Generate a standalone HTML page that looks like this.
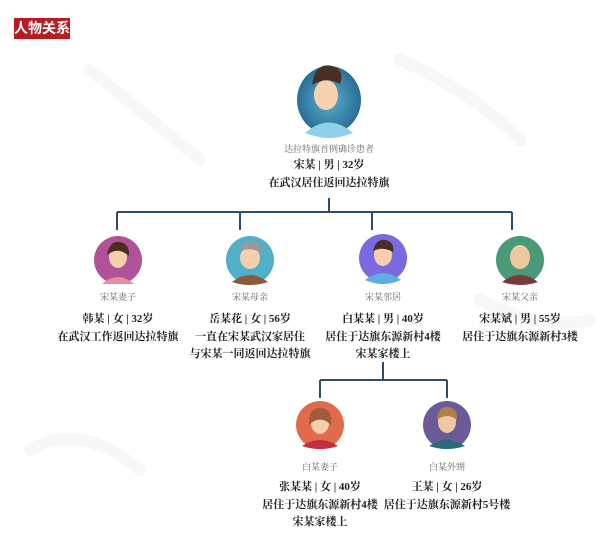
<!DOCTYPE html>
<html><head><meta charset="utf-8"><style>
body{margin:0;width:601px;height:534px;background:#fff;position:relative;overflow:hidden;font-family:"Liberation Serif","Noto Serif CJK SC",serif;color:#222}
.t{position:absolute;transform:translateX(-50%);white-space:nowrap;text-align:center}
.s{font-size:9px;color:#666}
.b{font-size:11px;font-weight:bold;line-height:17.5px}
.ttl{position:absolute;left:14px;top:18px;width:56px;height:21px;background:#b81c22;color:#fff;font:bold 14px "Liberation Sans","Noto Sans CJK SC",sans-serif;line-height:21px;text-align:center}
</style></head><body>
<svg width="601" height="534" style="position:absolute;left:0;top:0">
<g fill="none" stroke="#f6f7f8" stroke-width="12" stroke-linecap="round">
<path d="M90 70 Q140 110 200 160"/><path d="M400 60 Q470 90 520 140"/><path d="M30 450 Q80 420 140 470"/><path d="M480 300 Q540 330 590 320"/>
</g>
<g stroke="#2f4d66" stroke-width="2" fill="none">
<path d="M329 198V212M117 212H512M117 212V230M240 212V230M372 212V230M512 212V230"/>
<path d="M383 362V380M320 380H447M320 380V398M447 380V398"/>
</g>
<defs>
<radialGradient id="g1"><stop offset="0" stop-color="#5ab0d0"/><stop offset="1" stop-color="#2a6e96"/></radialGradient>
</defs>
<ellipse cx="329" cy="100" rx="32" ry="34" fill="url(#g1)"/>
<path d="M305 133 Q329 112 353 133 Q340 138 329 138 Q318 138 305 133Z" fill="#8fd0e8"/>
<ellipse cx="326" cy="95" rx="12" ry="15" fill="#f7d2b0"/>
<path d="M312 85 Q315 62 332 66 Q345 70 340 84 Q326 76 312 85Z" fill="#4a2e22"/>
<g>
<circle cx="118" cy="260" r="24" fill="#b0529a"/><ellipse cx="118" cy="257" rx="9" ry="11" fill="#f5cfae"/><path d="M102 284 Q118 270 134 284Z" fill="#ec8aa0"/><path d="M107 255 Q110 240 120 242 Q130 244 129 256 Q118 246 107 255Z" fill="#4a2e22"/>
<circle cx="250" cy="260" r="24" fill="#4fb0c8"/><ellipse cx="250" cy="258" rx="10" ry="11" fill="#f5cfae"/><path d="M232 282 Q250 268 268 282 Q250 288 232 282Z" fill="#8a5a3a"/><path d="M239 252 Q242 240 252 241 Q262 243 261 253 Q250 246 239 252Z" fill="#999"/>
<circle cx="383" cy="258" r="24" fill="#7a6ae0"/><ellipse cx="383" cy="255" rx="9" ry="11" fill="#f5cfae"/><path d="M365 280 Q383 266 401 280 Q383 288 365 280Z" fill="#5aaee0"/><path d="M373 251 Q376 238 386 240 Q395 243 393 252 Q383 246 373 251Z" fill="#4a2e22"/>
<circle cx="520" cy="260" r="24" fill="#4a9a7a"/><ellipse cx="520" cy="257" rx="10" ry="12" fill="#f0c8a0"/><path d="M502 282 Q520 268 538 282 Q520 288 502 282Z" fill="#7a3a3a"/>
</g>
<circle cx="320" cy="425" r="24" fill="#e06a4a"/><ellipse cx="320" cy="423" rx="9" ry="11" fill="#f5cfae"/><path d="M302 446 Q320 434 338 446 Q320 452 302 446Z" fill="#c03040"/><path d="M309 425 Q308 408 320 408 Q333 408 331 425 Q320 414 309 425Z" fill="#a05a3a"/>
<circle cx="447" cy="425" r="24" fill="#6a5a9a"/><ellipse cx="447" cy="422" rx="9" ry="11" fill="#f0c8a0"/><path d="M429 446 Q447 434 465 446 Q447 452 429 446Z" fill="#2a6a7a"/><path d="M437 420 Q438 406 448 407 Q458 408 457 420 Q447 412 437 420Z" fill="#b0804a"/>
</svg>
<div class="ttl">人物关系</div>
<div class="t s" style="left:329px;top:142px">达拉特旗首例确诊患者</div>
<div class="t b" style="left:329px;top:157px">宋某 | 男 | 32岁<br>在武汉居住返回达拉特旗</div>
<div class="t s" style="left:118px;top:290px">宋某妻子</div>
<div class="t b" style="left:118px;top:311px">韩某 | 女 | 32岁<br>在武汉工作返回达拉特旗</div>
<div class="t s" style="left:250px;top:290px">宋某母亲</div>
<div class="t b" style="left:250px;top:311px">岳某花 | 女 | 56岁<br>一直在宋某武汉家居住<br>与宋某一同返回达拉特旗</div>
<div class="t s" style="left:383px;top:290px">宋某邻居</div>
<div class="t b" style="left:383px;top:311px">白某某 | 男 | 40岁<br>居住于达旗东源新村4楼<br>宋某家楼上</div>
<div class="t s" style="left:520px;top:290px">宋某父亲</div>
<div class="t b" style="left:520px;top:311px">宋某斌 | 男 | 55岁<br>居住于达旗东源新村3楼</div>
<div class="t s" style="left:320px;top:460px">白某妻子</div>
<div class="t b" style="left:320px;top:479px">张某某 | 女 | 40岁<br>居住于达旗东源新村4楼<br>宋某家楼上</div>
<div class="t s" style="left:447px;top:460px">白某外甥</div>
<div class="t b" style="left:447px;top:479px">王某 | 女 | 26岁<br>居住于达旗东源新村5号楼</div>
</body></html>
